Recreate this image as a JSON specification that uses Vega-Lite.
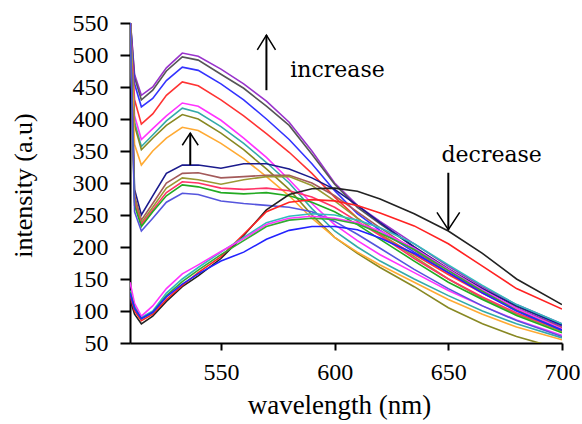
{
  "$schema": "https://vega.github.io/schema/vega-lite/v6.json",
  "width": 432,
  "height": 320,
  "autosize": "none",
  "padding": {"left": 130, "top": 23, "right": 20, "bottom": 81},
  "background": "white",
  "config": {
    "view": {"stroke": null},
    "axis": {"labelOverlap": false, "grid": false, "domainColor": "black", "domainWidth": 2, "tickColor": "black", "tickWidth": 2,
             "labelFont": "Liberation Serif", "labelFontSize": 24, "labelColor": "black", "labelFlush": false,
             "titleFont": "Liberation Serif", "titleFontWeight": "normal", "titleColor": "black"},
    "axisX": {"tickSize": 7, "labelPadding": 10, "titleFontSize": 27, "titlePadding": 8, "titleX": 209},
    "axisY": {"tickSize": 10, "labelPadding": 12, "titleFontSize": 26, "titlePadding": 36, "titleY": 162}
  },
  "datasets": {
    "spectra": [
      {"s":"A1","x":510,"y":560},{"s":"A1","x":512,"y":470},{"s":"A1","x":515,"y":437},{"s":"A1","x":520,"y":450},{"s":"A1","x":526,"y":480},{"s":"A1","x":533,"y":503},{"s":"A1","x":540,"y":498},{"s":"A1","x":550,"y":478},{"s":"A1","x":560,"y":455},{"s":"A1","x":570,"y":428},{"s":"A1","x":580,"y":395},{"s":"A1","x":590,"y":350},{"s":"A1","x":600,"y":300},{"s":"A1","x":610,"y":265},{"s":"A1","x":620,"y":240},{"s":"A1","x":635,"y":205},{"s":"A1","x":650,"y":170},{"s":"A1","x":665,"y":138},{"s":"A1","x":680,"y":110},{"s":"A1","x":700,"y":80},
      {"s":"A2","x":510,"y":560},{"s":"A2","x":512,"y":465},{"s":"A2","x":515,"y":430},{"s":"A2","x":520,"y":445},{"s":"A2","x":526,"y":475},{"s":"A2","x":533,"y":497},{"s":"A2","x":540,"y":492},{"s":"A2","x":550,"y":470},{"s":"A2","x":560,"y":448},{"s":"A2","x":570,"y":420},{"s":"A2","x":580,"y":390},{"s":"A2","x":590,"y":345},{"s":"A2","x":600,"y":298},{"s":"A2","x":610,"y":262},{"s":"A2","x":620,"y":236},{"s":"A2","x":635,"y":200},{"s":"A2","x":650,"y":166},{"s":"A2","x":665,"y":135},{"s":"A2","x":680,"y":107},{"s":"A2","x":700,"y":78},
      {"s":"A3","x":510,"y":560},{"s":"A3","x":512,"y":455},{"s":"A3","x":515,"y":419},{"s":"A3","x":520,"y":432},{"s":"A3","x":526,"y":460},{"s":"A3","x":533,"y":481},{"s":"A3","x":540,"y":476},{"s":"A3","x":550,"y":455},{"s":"A3","x":560,"y":430},{"s":"A3","x":570,"y":400},{"s":"A3","x":580,"y":368},{"s":"A3","x":590,"y":330},{"s":"A3","x":600,"y":288},{"s":"A3","x":610,"y":252},{"s":"A3","x":620,"y":226},{"s":"A3","x":635,"y":192},{"s":"A3","x":650,"y":160},{"s":"A3","x":665,"y":130},{"s":"A3","x":680,"y":104},{"s":"A3","x":700,"y":76},
      {"s":"A4","x":510,"y":560},{"s":"A4","x":512,"y":430},{"s":"A4","x":515,"y":392},{"s":"A4","x":520,"y":408},{"s":"A4","x":526,"y":437},{"s":"A4","x":533,"y":458},{"s":"A4","x":540,"y":452},{"s":"A4","x":550,"y":430},{"s":"A4","x":560,"y":405},{"s":"A4","x":570,"y":377},{"s":"A4","x":580,"y":348},{"s":"A4","x":590,"y":315},{"s":"A4","x":600,"y":278},{"s":"A4","x":610,"y":245},{"s":"A4","x":620,"y":220},{"s":"A4","x":635,"y":188},{"s":"A4","x":650,"y":157},{"s":"A4","x":665,"y":128},{"s":"A4","x":680,"y":102},{"s":"A4","x":700,"y":74},
      {"s":"A5","x":510,"y":560},{"s":"A5","x":512,"y":405},{"s":"A5","x":515,"y":368},{"s":"A5","x":520,"y":385},{"s":"A5","x":526,"y":405},{"s":"A5","x":533,"y":425},{"s":"A5","x":540,"y":420},{"s":"A5","x":550,"y":398},{"s":"A5","x":560,"y":370},{"s":"A5","x":570,"y":340},{"s":"A5","x":580,"y":305},{"s":"A5","x":590,"y":268},{"s":"A5","x":600,"y":235},{"s":"A5","x":610,"y":210},{"s":"A5","x":620,"y":188},{"s":"A5","x":635,"y":160},{"s":"A5","x":650,"y":132},{"s":"A5","x":665,"y":108},{"s":"A5","x":680,"y":86},{"s":"A5","x":700,"y":62},
      {"s":"A6","x":510,"y":560},{"s":"A6","x":512,"y":395},{"s":"A6","x":515,"y":357},{"s":"A6","x":520,"y":375},{"s":"A6","x":526,"y":397},{"s":"A6","x":533,"y":417},{"s":"A6","x":540,"y":410},{"s":"A6","x":550,"y":388},{"s":"A6","x":560,"y":362},{"s":"A6","x":570,"y":332},{"s":"A6","x":580,"y":300},{"s":"A6","x":590,"y":260},{"s":"A6","x":600,"y":225},{"s":"A6","x":610,"y":200},{"s":"A6","x":620,"y":178},{"s":"A6","x":635,"y":150},{"s":"A6","x":650,"y":124},{"s":"A6","x":665,"y":100},{"s":"A6","x":680,"y":80},{"s":"A6","x":700,"y":58},
      {"s":"A7","x":510,"y":560},{"s":"A7","x":512,"y":390},{"s":"A7","x":515,"y":352},{"s":"A7","x":520,"y":370},{"s":"A7","x":526,"y":390},{"s":"A7","x":533,"y":407},{"s":"A7","x":540,"y":400},{"s":"A7","x":550,"y":378},{"s":"A7","x":560,"y":352},{"s":"A7","x":570,"y":322},{"s":"A7","x":580,"y":290},{"s":"A7","x":590,"y":250},{"s":"A7","x":600,"y":215},{"s":"A7","x":610,"y":190},{"s":"A7","x":620,"y":168},{"s":"A7","x":635,"y":138},{"s":"A7","x":650,"y":105},{"s":"A7","x":665,"y":80},{"s":"A7","x":680,"y":60},{"s":"A7","x":700,"y":40},
      {"s":"A8","x":510,"y":560},{"s":"A8","x":512,"y":360},{"s":"A8","x":515,"y":328},{"s":"A8","x":520,"y":350},{"s":"A8","x":526,"y":370},{"s":"A8","x":533,"y":387},{"s":"A8","x":540,"y":382},{"s":"A8","x":550,"y":362},{"s":"A8","x":560,"y":338},{"s":"A8","x":570,"y":310},{"s":"A8","x":580,"y":280},{"s":"A8","x":590,"y":245},{"s":"A8","x":600,"y":215},{"s":"A8","x":610,"y":192},{"s":"A8","x":620,"y":172},{"s":"A8","x":635,"y":145},{"s":"A8","x":650,"y":118},{"s":"A8","x":665,"y":95},{"s":"A8","x":680,"y":75},{"s":"A8","x":700,"y":55},
      {"s":"B1","x":510,"y":560},{"s":"B1","x":512,"y":290},{"s":"B1","x":515,"y":250},{"s":"B1","x":520,"y":280},{"s":"B1","x":526,"y":315},{"s":"B1","x":533,"y":328},{"s":"B1","x":540,"y":328},{"s":"B1","x":550,"y":323},{"s":"B1","x":560,"y":330},{"s":"B1","x":570,"y":330},{"s":"B1","x":580,"y":322},{"s":"B1","x":590,"y":308},{"s":"B1","x":600,"y":290},{"s":"B1","x":610,"y":265},{"s":"B1","x":620,"y":238},{"s":"B1","x":635,"y":200},{"s":"B1","x":650,"y":165},{"s":"B1","x":665,"y":135},{"s":"B1","x":680,"y":108},{"s":"B1","x":700,"y":78},
      {"s":"B2","x":510,"y":560},{"s":"B2","x":512,"y":280},{"s":"B2","x":515,"y":242},{"s":"B2","x":520,"y":268},{"s":"B2","x":526,"y":300},{"s":"B2","x":533,"y":315},{"s":"B2","x":540,"y":316},{"s":"B2","x":550,"y":308},{"s":"B2","x":560,"y":310},{"s":"B2","x":570,"y":312},{"s":"B2","x":580,"y":312},{"s":"B2","x":590,"y":300},{"s":"B2","x":600,"y":280},{"s":"B2","x":610,"y":255},{"s":"B2","x":620,"y":230},{"s":"B2","x":635,"y":195},{"s":"B2","x":650,"y":160},{"s":"B2","x":665,"y":130},{"s":"B2","x":680,"y":104},{"s":"B2","x":700,"y":74},
      {"s":"B3","x":510,"y":560},{"s":"B3","x":512,"y":275},{"s":"B3","x":515,"y":238},{"s":"B3","x":520,"y":262},{"s":"B3","x":526,"y":292},{"s":"B3","x":533,"y":308},{"s":"B3","x":540,"y":305},{"s":"B3","x":550,"y":298},{"s":"B3","x":560,"y":305},{"s":"B3","x":570,"y":310},{"s":"B3","x":580,"y":310},{"s":"B3","x":590,"y":296},{"s":"B3","x":600,"y":272},{"s":"B3","x":610,"y":245},{"s":"B3","x":620,"y":220},{"s":"B3","x":635,"y":185},{"s":"B3","x":650,"y":150},{"s":"B3","x":665,"y":120},{"s":"B3","x":680,"y":95},{"s":"B3","x":700,"y":68},
      {"s":"B4","x":510,"y":560},{"s":"B4","x":512,"y":270},{"s":"B4","x":515,"y":235},{"s":"B4","x":520,"y":258},{"s":"B4","x":526,"y":285},{"s":"B4","x":533,"y":302},{"s":"B4","x":540,"y":300},{"s":"B4","x":550,"y":292},{"s":"B4","x":560,"y":290},{"s":"B4","x":570,"y":292},{"s":"B4","x":580,"y":288},{"s":"B4","x":590,"y":278},{"s":"B4","x":600,"y":262},{"s":"B4","x":610,"y":240},{"s":"B4","x":620,"y":218},{"s":"B4","x":635,"y":182},{"s":"B4","x":650,"y":150},{"s":"B4","x":665,"y":122},{"s":"B4","x":680,"y":97},{"s":"B4","x":700,"y":70},
      {"s":"B5","x":510,"y":560},{"s":"B5","x":512,"y":265},{"s":"B5","x":515,"y":232},{"s":"B5","x":520,"y":255},{"s":"B5","x":526,"y":280},{"s":"B5","x":533,"y":297},{"s":"B5","x":540,"y":294},{"s":"B5","x":550,"y":285},{"s":"B5","x":560,"y":283},{"s":"B5","x":570,"y":285},{"s":"B5","x":580,"y":280},{"s":"B5","x":590,"y":270},{"s":"B5","x":600,"y":255},{"s":"B5","x":610,"y":235},{"s":"B5","x":620,"y":212},{"s":"B5","x":635,"y":178},{"s":"B5","x":650,"y":145},{"s":"B5","x":665,"y":118},{"s":"B5","x":680,"y":93},{"s":"B5","x":700,"y":66},
      {"s":"B6","x":510,"y":560},{"s":"B6","x":512,"y":255},{"s":"B6","x":515,"y":225},{"s":"B6","x":520,"y":245},{"s":"B6","x":526,"y":270},{"s":"B6","x":533,"y":284},{"s":"B6","x":540,"y":282},{"s":"B6","x":550,"y":272},{"s":"B6","x":560,"y":268},{"s":"B6","x":570,"y":265},{"s":"B6","x":580,"y":262},{"s":"B6","x":590,"y":255},{"s":"B6","x":600,"y":240},{"s":"B6","x":610,"y":220},{"s":"B6","x":620,"y":198},{"s":"B6","x":635,"y":165},{"s":"B6","x":650,"y":135},{"s":"B6","x":665,"y":108},{"s":"B6","x":680,"y":85},{"s":"B6","x":700,"y":60},
      {"s":"C1","x":510,"y":118},{"s":"C1","x":512,"y":95},{"s":"C1","x":515,"y":80},{"s":"C1","x":520,"y":92},{"s":"C1","x":526,"y":115},{"s":"C1","x":533,"y":138},{"s":"C1","x":540,"y":155},{"s":"C1","x":550,"y":182},{"s":"C1","x":560,"y":218},{"s":"C1","x":570,"y":258},{"s":"C1","x":580,"y":282},{"s":"C1","x":590,"y":291},{"s":"C1","x":600,"y":292},{"s":"C1","x":610,"y":287},{"s":"C1","x":620,"y":275},{"s":"C1","x":635,"y":252},{"s":"C1","x":650,"y":225},{"s":"C1","x":665,"y":190},{"s":"C1","x":680,"y":150},{"s":"C1","x":700,"y":110},
      {"s":"C2","x":510,"y":125},{"s":"C2","x":512,"y":100},{"s":"C2","x":515,"y":85},{"s":"C2","x":520,"y":95},{"s":"C2","x":526,"y":118},{"s":"C2","x":533,"y":140},{"s":"C2","x":540,"y":160},{"s":"C2","x":550,"y":185},{"s":"C2","x":560,"y":220},{"s":"C2","x":570,"y":255},{"s":"C2","x":580,"y":270},{"s":"C2","x":590,"y":274},{"s":"C2","x":600,"y":272},{"s":"C2","x":610,"y":265},{"s":"C2","x":620,"y":253},{"s":"C2","x":635,"y":233},{"s":"C2","x":650,"y":205},{"s":"C2","x":665,"y":170},{"s":"C2","x":680,"y":135},{"s":"C2","x":700,"y":103},
      {"s":"C3","x":510,"y":132},{"s":"C3","x":512,"y":108},{"s":"C3","x":515,"y":90},{"s":"C3","x":520,"y":100},{"s":"C3","x":526,"y":128},{"s":"C3","x":533,"y":150},{"s":"C3","x":540,"y":168},{"s":"C3","x":550,"y":192},{"s":"C3","x":560,"y":215},{"s":"C3","x":570,"y":238},{"s":"C3","x":580,"y":248},{"s":"C3","x":590,"y":252},{"s":"C3","x":600,"y":250},{"s":"C3","x":610,"y":242},{"s":"C3","x":620,"y":230},{"s":"C3","x":635,"y":205},{"s":"C3","x":650,"y":172},{"s":"C3","x":665,"y":140},{"s":"C3","x":680,"y":110},{"s":"C3","x":700,"y":80},
      {"s":"C4","x":510,"y":145},{"s":"C4","x":512,"y":112},{"s":"C4","x":515,"y":92},{"s":"C4","x":520,"y":108},{"s":"C4","x":526,"y":135},{"s":"C4","x":533,"y":158},{"s":"C4","x":540,"y":172},{"s":"C4","x":550,"y":193},{"s":"C4","x":560,"y":213},{"s":"C4","x":570,"y":235},{"s":"C4","x":580,"y":245},{"s":"C4","x":590,"y":248},{"s":"C4","x":600,"y":245},{"s":"C4","x":610,"y":238},{"s":"C4","x":620,"y":225},{"s":"C4","x":635,"y":198},{"s":"C4","x":650,"y":165},{"s":"C4","x":665,"y":133},{"s":"C4","x":680,"y":104},{"s":"C4","x":700,"y":72},
      {"s":"C5","x":510,"y":130},{"s":"C5","x":512,"y":105},{"s":"C5","x":515,"y":88},{"s":"C5","x":520,"y":98},{"s":"C5","x":526,"y":124},{"s":"C5","x":533,"y":146},{"s":"C5","x":540,"y":164},{"s":"C5","x":550,"y":188},{"s":"C5","x":560,"y":210},{"s":"C5","x":570,"y":232},{"s":"C5","x":580,"y":242},{"s":"C5","x":590,"y":245},{"s":"C5","x":600,"y":243},{"s":"C5","x":610,"y":236},{"s":"C5","x":620,"y":222},{"s":"C5","x":635,"y":196},{"s":"C5","x":650,"y":163},{"s":"C5","x":665,"y":131},{"s":"C5","x":680,"y":101},{"s":"C5","x":700,"y":70},
      {"s":"C6","x":510,"y":128},{"s":"C6","x":512,"y":104},{"s":"C6","x":515,"y":88},{"s":"C6","x":520,"y":98},{"s":"C6","x":526,"y":122},{"s":"C6","x":533,"y":142},{"s":"C6","x":540,"y":158},{"s":"C6","x":550,"y":178},{"s":"C6","x":560,"y":192},{"s":"C6","x":570,"y":212},{"s":"C6","x":580,"y":226},{"s":"C6","x":590,"y":232},{"s":"C6","x":600,"y":232},{"s":"C6","x":610,"y":227},{"s":"C6","x":620,"y":214},{"s":"C6","x":635,"y":190},{"s":"C6","x":650,"y":160},{"s":"C6","x":665,"y":128},{"s":"C6","x":680,"y":100},{"s":"C6","x":700,"y":70}
    ],
    "shafts": [
      {"x":570,"y":445,"y2":531},
      {"x":536.5,"y":328,"y2":378},
      {"x":650,"y":316,"y2":227}
    ],
    "heads": [
      {"h":"a","o":1,"x":566,"y":508},{"h":"a","o":2,"x":570,"y":531},{"h":"a","o":3,"x":574,"y":508},
      {"h":"b","o":1,"x":533,"y":359},{"h":"b","o":2,"x":536.5,"y":378},{"h":"b","o":3,"x":540,"y":359},
      {"h":"c","o":1,"x":645,"y":254},{"h":"c","o":2,"x":650,"y":227},{"h":"c","o":3,"x":655,"y":254}
    ],
    "labels": [
      {"x":580.5,"y":477,"t":"increase"},
      {"x":647,"y":344,"t":"decrease"}
    ]
  },
  "layer": [
    {
      "data": {"name": "spectra"},
      "mark": {"type": "line", "clip": true, "strokeWidth": 1.6},
      "encoding": {
        "x": {
          "field": "x", "type": "quantitative",
          "scale": {"domain": [510, 700], "nice": false, "zero": false},
          "axis": {"values": [550, 600, 650, 700], "title": "wavelength (nm)"}
        },
        "y": {
          "field": "y", "type": "quantitative",
          "scale": {"domain": [50, 550], "nice": false, "zero": false},
          "axis": {"values": [50, 100, 150, 200, 250, 300, 350, 400, 450, 500, 550], "title": "intensity (a.u)"}
        },
        "color": {
          "field": "s", "type": "nominal", "legend": null,
          "scale": {
            "domain": ["A1","A2","A3","A4","A5","A6","A7","A8","B1","B2","B3","B4","B5","B6","C1","C2","C3","C4","C5","C6"],
            "range": ["#9933cc","#555555","#3333ff","#ff3333","#ff33ff","#33aaaa","#888822","#ffaa33","#1a1a8c","#a35a5a","#999933","#ff3366","#22aa22","#5555dd","#222222","#ff2222","#33bbbb","#ff33ff","#33aa33","#2222ff"]
          }
        }
      }
    },
    {
      "data": {"name": "shafts"},
      "mark": {"type": "rule", "color": "black", "strokeWidth": 2},
      "encoding": {
        "x": {"field": "x", "type": "quantitative", "axis": {"values": [550, 600, 650, 700], "title": "wavelength (nm)"}},
        "y": {"field": "y", "type": "quantitative", "axis": {"values": [50, 100, 150, 200, 250, 300, 350, 400, 450, 500, 550], "title": "intensity (a.u)"}},
        "y2": {"field": "y2"}
      }
    },
    {
      "data": {"name": "heads"},
      "mark": {"type": "line", "color": "black", "strokeWidth": 1.5},
      "encoding": {
        "x": {"field": "x", "type": "quantitative", "axis": {"values": [550, 600, 650, 700], "title": "wavelength (nm)"}},
        "y": {"field": "y", "type": "quantitative", "axis": {"values": [50, 100, 150, 200, 250, 300, 350, 400, 450, 500, 550], "title": "intensity (a.u)"}},
        "detail": {"field": "h"},
        "order": {"field": "o"}
      }
    },
    {
      "data": {"name": "labels"},
      "mark": {"type": "text", "align": "left", "baseline": "middle", "font": "DejaVu Serif", "fontSize": 22, "color": "black"},
      "encoding": {
        "x": {"field": "x", "type": "quantitative", "axis": {"values": [550, 600, 650, 700], "title": "wavelength (nm)"}},
        "y": {"field": "y", "type": "quantitative", "axis": {"values": [50, 100, 150, 200, 250, 300, 350, 400, 450, 500, 550], "title": "intensity (a.u)"}},
        "text": {"field": "t"}
      }
    }
  ]
}
